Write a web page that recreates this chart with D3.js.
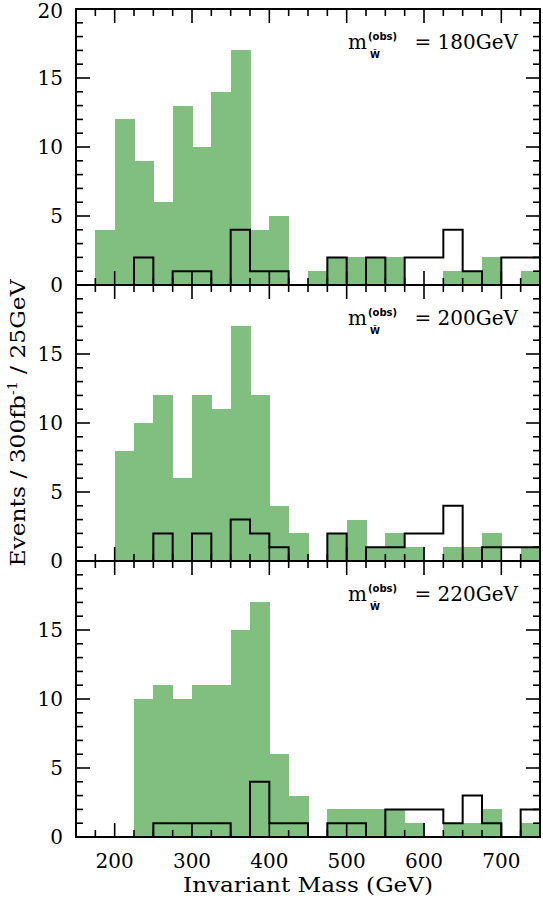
<!DOCTYPE html>
<html>
<head>
<meta charset="utf-8">
<script src="https://cdn.jsdelivr.net/npm/d3@7"></script>
<style>
  body { margin: 0; background: #fff; }
  svg { display: block; font-family: "DejaVu Serif", serif; }
</style>
</head>
<body>
<svg id="chart" width="543" height="900"></svg>
<script>
// lower edges of the 25 GeV bins
const binLow = [150, 175, 200, 225, 250, 275, 300, 325, 350, 375, 400, 425,
                450, 475, 500, 525, 550, 575, 600, 625, 650, 675, 700, 725];
const binWidth = 25;

const masses = [180, 200, 220];

// filled (green) histograms
const green180 = [0, 4, 12, 9, 6, 13, 10, 14, 17, 4, 5, 0, 1, 2, 2, 2, 2, 0, 0, 1, 1, 2, 0, 1];
const green200 = [0, 0, 8, 10, 12, 6, 12, 11, 17, 12, 4, 2, 0, 2, 3, 1, 2, 1, 0, 1, 1, 2, 0, 1];
const green220 = [0, 0, 0, 10, 11, 10, 11, 11, 15, 17, 6, 3, 0, 2, 2, 2, 2, 1, 0, 1, 1, 2, 0, 1];

// outline (black) histograms
const black180 = [0, 0, 0, 2, 0, 1, 1, 0, 4, 1, 1, 0, 0, 2, 0, 2, 0, 2, 2, 4, 1, 0, 2, 2];
const black200 = [0, 0, 0, 0, 2, 0, 2, 0, 3, 2, 1, 0, 0, 2, 0, 1, 1, 2, 2, 4, 0, 1, 1, 1];
const black220 = [0, 0, 0, 0, 1, 1, 1, 1, 0, 4, 1, 1, 0, 1, 1, 0, 2, 2, 2, 1, 3, 1, 0, 2];

const xTicks = [200, 300, 400, 500, 600, 700];
const yTicksTop = [0, 5, 10, 15, 20];
const yTicksOther = [0, 5, 10, 15];

const greenSeries = [green180, green200, green220];
const blackSeries = [black180, black200, black220];

const mLeft = 76, mRight = 540, mTop = 9, panelH = 276;
const fill = "#80bf80";

const svg = d3.select("#chart");

const x = d3.scaleLinear().domain([150, 750]).range([mLeft, mRight]);
const majorX = d3.range(200, 701, 100);
const minorX = d3.range(175, 750, 25).filter(v => v % 100 !== 0);

svg.append("defs").append("clipPath").attr("id", "plotclip")
  .append("rect").attr("x", mLeft).attr("y", mTop)
  .attr("width", mRight - mLeft).attr("height", panelH * 3);

masses.forEach((m, i) => {
  const y0 = mTop + i * panelH;
  const y = d3.scaleLinear().domain([0, 20]).range([y0 + panelH, y0]);
  const g = svg.append("g");
  const plot = g.append("g").attr("clip-path", "url(#plotclip)");

  // green bars
  plot.selectAll("rect")
    .data(greenSeries[i].map((v, k) => ({ lo: binLow[k], v })))
    .join("rect")
    .attr("x", d => x(d.lo))
    .attr("width", d => x(d.lo + binWidth) - x(d.lo) + 0.6)
    .attr("y", d => y(d.v))
    .attr("height", d => y(0) - y(d.v))
    .attr("fill", fill)
    .attr("shape-rendering", "crispEdges");

  // black outline histogram
  const pts = blackSeries[i].map((v, k) => [binLow[k], v]);
  pts.push([750, blackSeries[i][blackSeries[i].length - 1]]);
  const line = d3.line()
    .x(d => x(d[0]))
    .y(d => y(d[1]))
    .curve(d3.curveStepAfter);
  plot.append("path")
    .attr("d", line(pts))
    .attr("fill", "none")
    .attr("stroke", "#000")
    .attr("stroke-width", 2);

  // ticks on all four sides
  const ticks = g.append("g").attr("stroke", "#000").attr("stroke-width", 1.6);
  const yb = y(0), yt = y(20);
  majorX.forEach(v => {
    ticks.append("line").attr("x1", x(v)).attr("x2", x(v)).attr("y1", yb).attr("y2", yb - 14);
    ticks.append("line").attr("x1", x(v)).attr("x2", x(v)).attr("y1", yt).attr("y2", yt + 14);
  });
  minorX.forEach(v => {
    ticks.append("line").attr("x1", x(v)).attr("x2", x(v)).attr("y1", yb).attr("y2", yb - 7);
    ticks.append("line").attr("x1", x(v)).attr("x2", x(v)).attr("y1", yt).attr("y2", yt + 7);
  });
  d3.range(1, 20).forEach(v => {
    const len = v % 5 === 0 ? 14 : 7;
    ticks.append("line").attr("x1", mLeft).attr("x2", mLeft + len).attr("y1", y(v)).attr("y2", y(v));
    ticks.append("line").attr("x1", mRight).attr("x2", mRight - len).attr("y1", y(v)).attr("y2", y(v));
  });

  // frame
  g.append("rect")
    .attr("x", mLeft).attr("y", y0)
    .attr("width", mRight - mLeft).attr("height", panelH)
    .attr("fill", "none").attr("stroke", "#000").attr("stroke-width", 2);

  // y tick labels
  g.selectAll("text.ytick")
    .data(i === 0 ? yTicksTop : yTicksOther)
    .join("text")
    .attr("class", "ytick")
    .attr("x", 63)
    .attr("y", d => Math.max(y(d), 11))
    .attr("dy", "0.36em")
    .attr("text-anchor", "end")
    .attr("font-size", 20)
    .text(d => d);

  // mass label
  const by = y0 + 40;
  const lab = g.append("g");
  lab.append("text").attr("x", 348).attr("y", by).attr("font-size", 20).text("m");
  lab.append("text").attr("x", 368).attr("y", by - 9)
    .attr("font-family", "DejaVu Sans").attr("font-weight", "bold")
    .attr("font-size", 10).text("(obs)");
  lab.append("text").attr("x", 370).attr("y", by + 9)
    .attr("font-family", "DejaVu Sans").attr("font-weight", "bold")
    .attr("font-size", 9).text("W\u0303");
  lab.append("text").attr("x", 518).attr("y", by).attr("text-anchor", "end")
    .attr("font-size", 20).text(`=  ${m}GeV`);
});

// x tick labels
svg.selectAll("text.xtick")
  .data(xTicks)
  .join("text")
  .attr("class", "xtick")
  .attr("x", d => x(d))
  .attr("y", 868)
  .attr("text-anchor", "middle")
  .attr("font-size", 20)
  .text(d => d);

// axis titles
svg.append("text")
  .attr("x", (mLeft + mRight) / 2)
  .attr("y", 892)
  .attr("text-anchor", "middle")
  .attr("font-size", 20)
  .attr("textLength", 250)
  .attr("lengthAdjust", "spacingAndGlyphs")
  .text("Invariant Mass (GeV)");

const yTitle = svg.append("text")
  .attr("transform", "translate(25,423) rotate(-90) scale(1.17,1)")
  .attr("text-anchor", "middle")
  .attr("font-size", 20);
yTitle.append("tspan").text("Events  /  300fb");
yTitle.append("tspan").attr("dy", -8).attr("font-size", 12).text("-1");
yTitle.append("tspan").attr("dy", 8).text("  /  25GeV");
</script>
</body>
</html>
